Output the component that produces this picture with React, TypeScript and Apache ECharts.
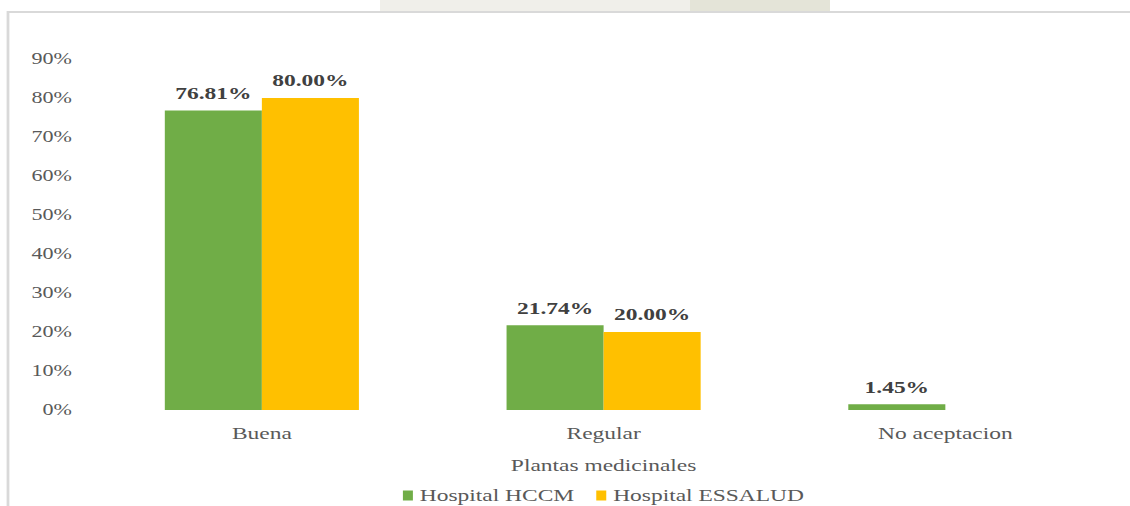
import React, { useEffect, useRef } from "react";
import * as echarts from "echarts";

const categories = ["Buena", "Regular", "No aceptacion"];
const hccm = [76.81, 21.74, 1.45];
const essalud = [80.0, 20.0, null];
const seriesNames = ["Hospital HCCM", "Hospital ESSALUD"];
const axisName = "Plantas medicinales";

const SX = 1.38;
const W = 1130 / SX;

export default function App() {
  const ref = useRef<HTMLDivElement>(null);
  useEffect(() => {
    const chart = echarts.init(ref.current!, null, { renderer: "svg" });
    const font = "Times New Roman, Liberation Serif, serif";
    const u = (v: number) => v / SX;
    const labelStyle = {
      show: true,
      position: "top",
      distance: 9,
      fontFamily: font,
      fontSize: 17,
      fontWeight: "bold",
      color: "#404040",
    };
    chart.setOption({
      animation: false,
      backgroundColor: "#ffffff",
      textStyle: { fontFamily: font },
      graphic: [
        { type: "rect", z: -10, shape: { x: u(380), y: 0, width: u(310), height: 11 }, style: { fill: "#f0efea" } },
        { type: "rect", z: -10, shape: { x: u(690), y: 0, width: u(140), height: 11 }, style: { fill: "#e4e4d8" } },
        {
          type: "polyline",
          z: -5,
          shape: { points: [[u(8), 506], [u(8), 12], [W + 5, 12]] },
          style: { stroke: "#d9d9d9", lineWidth: 2, fill: null },
        },
      ],
      grid: { left: u(91), right: u(14), top: 59, bottom: 96, containLabel: false },
      legend: {
        data: seriesNames,
        top: 482,
        left: u(396),
        itemWidth: u(10),
        itemHeight: 10,
        itemGap: u(22),
        icon: "rect",
        textStyle: { fontFamily: font, fontSize: 17, color: "#595959" },
      },
      xAxis: {
        type: "category",
        data: categories,
        name: axisName,
        nameLocation: "middle",
        nameGap: 47,
        nameTextStyle: { fontFamily: font, fontSize: 17, color: "#595959" },
        axisLine: { show: false },
        axisTick: { show: false },
        axisLabel: { fontFamily: font, fontSize: 17, color: "#595959", margin: 15 },
      },
      yAxis: {
        type: "value",
        min: 0,
        max: 90,
        interval: 10,
        splitLine: { show: false },
        axisLine: { show: false },
        axisTick: { show: false },
        axisLabel: { formatter: "{value}%", fontFamily: font, fontSize: 16, color: "#595959", margin: u(19) },
      },
      series: [
        {
          name: seriesNames[0],
          type: "bar",
          data: hccm,
          barWidth: "28.4%",
          barGap: "0%",
          itemStyle: { color: "#70ad47" },
          label: { ...labelStyle, formatter: (p: any) => p.value.toFixed(2) + "%" },
        },
        {
          name: seriesNames[1],
          type: "bar",
          data: essalud,
          barWidth: "28.4%",
          barGap: "0%",
          itemStyle: { color: "#ffc000" },
          label: { ...labelStyle, formatter: (p: any) => (p.value == null ? "" : p.value.toFixed(2) + "%") },
        },
      ],
    });
    return () => chart.dispose();
  }, []);
  return (
    <div style={{ position: "absolute", left: 0, top: 0, width: 1130, height: 506, overflow: "hidden", background: "#fff" }}>
      <div
        ref={ref}
        style={{ width: W, height: 506, transform: `scaleX(${SX})`, transformOrigin: "0 0" }}
      />
    </div>
  );
}
